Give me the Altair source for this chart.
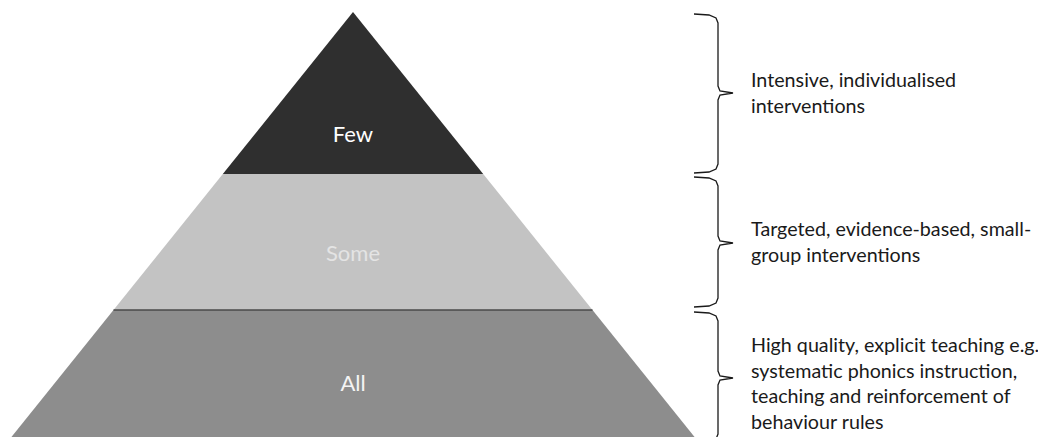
import altair as alt
import pandas as pd

# ---- diagram content ----
tiers = ["Few", "Some", "All"]
tier_top = [12, 174, 310]          # image-space y of each tier's top edge
tier_bottom = [174, 310, 445]      # image-space y of each tier's bottom edge
tier_colors = ["#2f2f2f", "#c3c3c3", "#8d8d8d"]
tier_label_colors = ["#ffffff", "#e4e4e4", "#f4f4f4"]
tier_label_y = [135, 254, 384]

apex_x = 353
apex_y = 12
base_y = 445
base_half = 348

brace_top = [14, 177, 312]
brace_bottom = [173, 307, 443]
brace_mid = [93, 243, 378]

descriptions = [
    ["Intensive, individualised", "interventions"],
    ["Targeted, evidence-based, small-", "group interventions"],
    ["High quality, explicit teaching e.g.", "systematic phonics instruction,",
     "teaching and reinforcement of", "behaviour rules"],
]
desc_first_baseline = [87, 236, 352]
line_height = 25.5
text_x = 751

# ---- build tables ----
def half_width(y):
    return base_half * (y - apex_y) / (base_y - apex_y)

rows = []
for name, t, b in zip(tiers, tier_top, tier_bottom):
    for y in (t, b):
        w = half_width(y)
        rows.append({"tier": name, "y": y, "left": apex_x - w, "right": apex_x + w})
pyr = pd.DataFrame(rows)

labels = pd.DataFrame({"tier": tiers, "x": [apex_x] * 3, "y": tier_label_y,
                       "c": tier_label_colors})

brace_rows = []
for i, (t, b, m) in enumerate(zip(brace_top, brace_bottom, brace_mid)):
    pts = [(694, t), (709, t + 1), (716, t + 4), (718, t + 9),
           (718, m - 7), (720, m - 2), (733, m), (720, m + 2), (718, m + 7),
           (718, b - 9), (716, b - 4), (709, b - 1), (694, b)]
    for k, (x, y) in enumerate(pts):
        brace_rows.append({"brace": i, "k": k, "x": x, "y": y})
braces = pd.DataFrame(brace_rows)

text_rows = []
for i, lines in enumerate(descriptions):
    for j, line in enumerate(lines):
        text_rows.append({"g": i, "line": line, "x": text_x,
                          "y": desc_first_baseline[i] + j * line_height})
texts = pd.DataFrame(text_rows)

xs = alt.Scale(domain=[8, 1038])
ys = alt.Scale(domain=[437, 8])

area = alt.Chart(pyr).mark_area(orient="horizontal", clip=True).encode(
    y=alt.Y("y:Q", scale=ys, axis=None),
    x=alt.X("left:Q", scale=xs, axis=None),
    x2="right:Q",
    color=alt.Color("tier:N", scale=alt.Scale(domain=tiers, range=tier_colors), legend=None),
    detail="tier:N",
)

sep = alt.Chart(pyr[pyr["tier"] == "All"].head(1)).mark_rule(color="#4a4a4a", strokeWidth=1.5).encode(
    y=alt.Y("y:Q", scale=ys), x=alt.X("left:Q", scale=xs), x2="right:Q")

tier_text = alt.Chart(labels).mark_text(font="Lato", fontSize=22, baseline="middle", align="center").encode(
    x=alt.X("x:Q", scale=xs), y=alt.Y("y:Q", scale=ys), text="tier:N",
    color=alt.Color("c:N", scale=None))

brace_lines = alt.Chart(braces).mark_line(color="#1a1a1a", strokeWidth=1.3).encode(
    x=alt.X("x:Q", scale=xs), y=alt.Y("y:Q", scale=ys), detail="brace:N", order="k:Q")

desc = alt.Chart(texts).mark_text(font="Lato", fontSize=19.7, align="left", baseline="alphabetic",
                                  color="#1a1a1a").encode(
    x=alt.X("x:Q", scale=xs), y=alt.Y("y:Q", scale=ys), text="line:N")

chart = alt.layer(area, sep, tier_text, brace_lines, desc).properties(
    width=1030, height=429, padding=0, autosize=alt.AutoSizeParams(type="none")
).configure_view(stroke=None)

chart.save("out.html", embed_options={"renderer": "svg", "actions": False})
